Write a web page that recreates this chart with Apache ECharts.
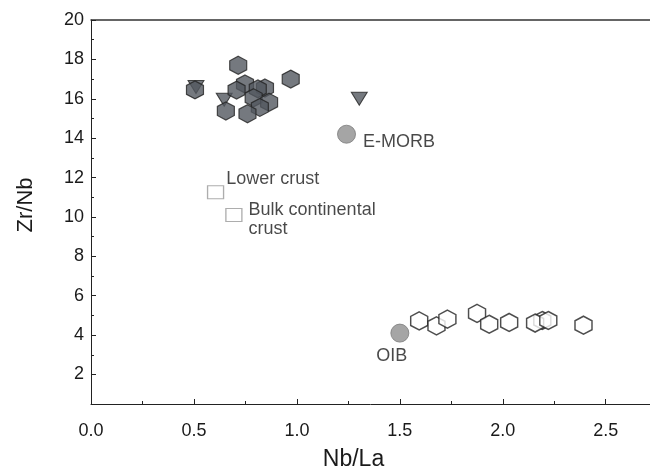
<!DOCTYPE html>
<html>
<head>
<meta charset="utf-8">
<script src="https://cdn.jsdelivr.net/npm/echarts@6/dist/echarts.min.js"></script>
<style>
  html, body { margin: 0; padding: 0; background: #fff; }
  #chart { width: 650px; height: 470px; }
</style>
</head>
<body>
<div id="chart"></div>
<script>
// Basalt samples, Zr/Nb vs Nb/La (filled hexagons)
const basaltNbLa = [0.715, 0.505, 0.97, 0.748, 0.707, 0.845, 0.81, 0.79, 0.865, 0.82, 0.655, 0.76];
const basaltZrNb = [17.7, 16.45, 17.0, 16.75, 16.44, 16.55, 16.5, 16.05, 15.82, 15.56, 15.38, 15.24];

// Second group (filled down-triangles)
const triNbLa = [0.51, 0.647, 1.303];
const triZrNb = [16.6, 15.95, 16.0];

// Open hexagons, low Zr/Nb group
const oibTypeNbLa = [1.594, 1.678, 1.731, 1.875, 1.934, 2.031, 2.192, 2.157, 2.221, 2.392];
const oibTypeZrNb = [4.72, 4.47, 4.81, 5.10, 4.55, 4.64, 4.74, 4.61, 4.74, 4.50];

// Reservoir reference points
const refNames = ['E-MORB', 'OIB', 'Lower crust', 'Bulk continental\ncrust'];
const refNbLa = [1.241, 1.5, 0.605, 0.694];
const refZrNb = [14.2, 4.1, 11.25, 10.1];

// Axis ticks
const xMajorTicks = [0, 0.5, 1.0, 1.5, 2.0, 2.5];
const xMinorTicks = [0.25, 0.75, 1.25, 1.75, 2.25];
const yMajorTicks = [2, 4, 6, 8, 10, 12, 14, 16, 18, 20];
const yMinorTicks = [3, 5, 7, 9, 11, 13, 15, 17, 19];

const zip = (xs, ys) => xs.map((x, i) => [x, ys[i]]);

const HEX = 'path://M50,0 L93.3,25 L93.3,75 L50,100 L6.7,75 L6.7,25 Z';
const TRI_DOWN = 'path://M0,0 L100,0 L50,87 Z';

const FONT = 'Liberation Sans, Arial, sans-serif';
const TEXT = '#1a1a1a';
const X_MIN = 0, X_MAX = 2.715, Y_MIN = 0.5, Y_MAX = 20;

const chart = echarts.init(document.getElementById('chart'), null, { renderer: 'canvas' });

const labelStyle = { color: TEXT, fontSize: 18, fontFamily: FONT };

chart.setOption({
  animation: false,
  backgroundColor: '#fff',
  grid: { left: 91, top: 20, right: 0, bottom: 66, containLabel: false, outerBoundsMode: 'none' },
  xAxis: [
    {
      type: 'value', min: X_MIN, max: X_MAX, position: 'bottom',
      name: 'Nb/La', nameLocation: 'middle', nameGap: 44,
      nameTextStyle: { color: TEXT, fontSize: 23, fontFamily: FONT, padding: [0, 34, 0, 0] },
      axisLine: { show: true, lineStyle: { color: '#222', width: 1 } },
      axisTick: { show: true, inside: true, length: 5, customValues: xMajorTicks, lineStyle: { color: '#222' } },
      axisLabel: { customValues: xMajorTicks, margin: 18, color: TEXT, fontSize: 18, fontFamily: FONT,
        formatter: v => v.toFixed(1) },
      splitLine: { show: false }
    },
    {
      type: 'value', min: X_MIN, max: X_MAX, position: 'bottom',
      axisLine: { show: false },
      axisTick: { show: true, inside: true, length: 3, customValues: xMinorTicks, lineStyle: { color: '#222' } },
      axisLabel: { show: false },
      splitLine: { show: false }
    },
    {
      type: 'value', min: X_MIN, max: X_MAX, position: 'top',
      axisLine: { show: true, lineStyle: { color: '#333', width: 1.5 } },
      axisTick: { show: false }, axisLabel: { show: false }, splitLine: { show: false }
    }
  ],
  yAxis: [
    {
      type: 'value', min: Y_MIN, max: Y_MAX, position: 'left',
      name: 'Zr/Nb', nameLocation: 'middle', nameGap: 54,
      nameTextStyle: { color: TEXT, fontSize: 22, fontFamily: FONT, padding: [0, 0, 0, 14] },
      axisLine: { show: true, lineStyle: { color: '#222', width: 1 } },
      axisTick: { show: true, inside: true, length: 5, customValues: yMajorTicks, lineStyle: { color: '#222' } },
      axisLabel: { customValues: yMajorTicks, margin: 7, color: TEXT, fontSize: 18, fontFamily: FONT },
      splitLine: { show: false }
    },
    {
      type: 'value', min: Y_MIN, max: Y_MAX, position: 'left',
      axisLine: { show: false },
      axisTick: { show: true, inside: true, length: 3, customValues: yMinorTicks, lineStyle: { color: '#222' } },
      axisLabel: { show: false },
      splitLine: { show: false }
    }
  ],
  series: [
    {
      type: 'scatter', name: 'triangles', symbol: TRI_DOWN, symbolSize: [16, 13],
      itemStyle: { color: '#53585f', borderColor: '#222', borderWidth: 1 },
      data: zip(triNbLa, triZrNb)
    },
    {
      type: 'scatter', name: 'basalts', symbol: HEX, symbolSize: [17, 18],
      itemStyle: { color: '#53585f', borderColor: '#222', borderWidth: 1.2 },
      data: zip(basaltNbLa, basaltZrNb)
    },
    {
      type: 'scatter', name: 'open', symbol: HEX, symbolSize: [17, 18],
      itemStyle: { color: '#fff', borderColor: '#222', borderWidth: 1.5 },
      data: zip(oibTypeNbLa, oibTypeZrNb)
    },
    {
      type: 'scatter', name: 'E-MORB', symbol: 'circle', symbolSize: 18,
      itemStyle: { color: '#8e8e8e', borderColor: '#7a7a7a', borderWidth: 1 },
      label: { show: true, position: 'right', distance: 7, offset: [0, 8], formatter: refNames[0], ...labelStyle },
      data: [[refNbLa[0], refZrNb[0]]]
    },
    {
      type: 'scatter', name: 'OIB', symbol: 'circle', symbolSize: 18,
      itemStyle: { color: '#8e8e8e', borderColor: '#7a7a7a', borderWidth: 1 },
      label: { show: true, position: 'bottom', distance: 4, offset: [-8, 0], formatter: refNames[1], ...labelStyle },
      data: [[refNbLa[1], refZrNb[1]]]
    },
    {
      type: 'scatter', name: 'Lower crust', symbol: 'rect', symbolSize: [16, 13],
      itemStyle: { color: '#fff', borderColor: '#999', borderWidth: 1.2 },
      label: { show: true, position: 'right', distance: 2, offset: [0, -13], formatter: refNames[2], ...labelStyle },
      data: [[refNbLa[2], refZrNb[2]]]
    },
    {
      type: 'scatter', name: 'Bulk continental crust', symbol: 'rect', symbolSize: [16, 13],
      itemStyle: { color: '#fff', borderColor: '#999', borderWidth: 1.2 },
      label: { show: true, position: 'right', distance: 6, offset: [0, 5], lineHeight: 19,
        formatter: refNames[3], ...labelStyle },
      data: [[refNbLa[3], refZrNb[3]]]
    }
  ]
});
</script>
</body>
</html>
